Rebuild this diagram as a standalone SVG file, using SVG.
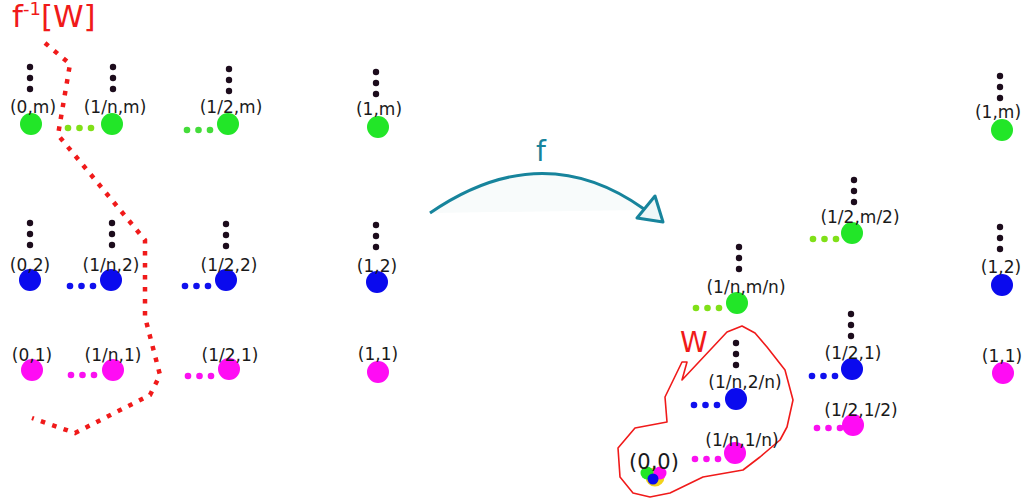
<svg xmlns="http://www.w3.org/2000/svg" xmlns:xlink="http://www.w3.org/1999/xlink" width="1028" height="501" viewBox="0 0 1028 501">
<style>
text{font-family:"DejaVu Sans",Verdana,sans-serif;}
.lbl{font-size:17px;fill:#1a1a1a;text-anchor:middle;}
.big{font-size:21px;fill:#1a1a1a;text-anchor:middle;}
.red{fill:#f01a1a;font-size:28px;}
.title{fill:#f01a1a;font-size:31px;}
.g{fill:#22e628;}
.b{fill:#0a0aee;}
.m{fill:#ff0cf4;}
.lg{color:#80e018;}
.dg{color:#44dc3a;}
.bd{color:#1010ee;}
.md{color:#fa10f0;}
</style>
<defs>
<g id="vdots" fill="#1c0c1c"><circle cx="0" cy="0" r="3.2"/><circle cx="0" cy="11" r="3.2"/><circle cx="0" cy="22" r="3.2"/></g>
<g id="hdots" fill="currentColor"><circle cx="0" cy="0" r="3.3"/><circle cx="11.5" cy="0" r="3.3"/><circle cx="23" cy="0" r="3.3"/></g>
</defs>
<rect width="1028" height="501" fill="#ffffff"/>

<g id="connectors">
<path d="M430,213 Q542,136 643,210 L430,213 Z" fill="#f8fbfb" stroke="none"/>
<path d="M430,213 Q542,136 644,209" fill="none" stroke="#17849c" stroke-width="3"/>
<polygon points="637,218 655,196 663,222" fill="#eef7f8" stroke="#17849c" stroke-width="3" stroke-linejoin="round"/>
<use xlink:href="#vdots" x="30" y="67"/>
<use xlink:href="#vdots" x="113" y="67"/>
<use xlink:href="#vdots" x="229" y="69"/>
<use xlink:href="#vdots" x="376" y="72"/>
<use xlink:href="#vdots" x="30" y="223"/>
<use xlink:href="#vdots" x="112" y="223"/>
<use xlink:href="#vdots" x="226" y="224"/>
<use xlink:href="#vdots" x="376" y="225"/>
<use xlink:href="#hdots" class="lg" x="68" y="128"/>
<use xlink:href="#hdots" class="dg" x="187" y="130"/>
<use xlink:href="#hdots" class="bd" x="70" y="286"/>
<use xlink:href="#hdots" class="bd" x="185" y="286"/>
<use xlink:href="#hdots" class="md" x="71" y="375"/>
<use xlink:href="#hdots" class="md" x="188" y="376"/>
<use xlink:href="#vdots" x="739" y="247"/>
<use xlink:href="#vdots" x="854" y="180"/>
<use xlink:href="#vdots" x="1000" y="76"/>
<use xlink:href="#vdots" x="1000" y="227"/>
<use xlink:href="#vdots" x="851" y="314"/>
<use xlink:href="#vdots" x="736" y="343"/>
<use xlink:href="#hdots" class="lg" x="696" y="308"/>
<use xlink:href="#hdots" class="lg" x="813" y="239"/>
<use xlink:href="#hdots" class="bd" x="812" y="376"/>
<use xlink:href="#hdots" class="md" x="817" y="428"/>
<use xlink:href="#hdots" class="bd" x="694" y="405"/>
<use xlink:href="#hdots" class="md" x="695" y="459"/>
</g>

<g id="preimage">
<path d="M45,43 L70,64 L58,135 L145,240 L145,317 L160,375 L150,395 L75,433 L32,418" fill="none" stroke="#f01a1a" stroke-width="4.5" stroke-dasharray="4.5 7.5"/>
<text class="title" x="12" y="27">f<tspan font-size="18" dy="-12">-1</tspan><tspan dy="12">[W]</tspan></text>
</g>

<g id="region-W">
<polygon points="742,326 755,333 767,347 785,370 793,400 787,427 780,440 760,457 743,470 703,477 670,493 650,497 633,493 620,477 618,448 635,428 667,422 665,397 682,362 687,362 682,380 727,332" fill="none" stroke="#f01a1a" stroke-width="1.6" stroke-linejoin="round"/>
<text class="red" x="680" y="352">W</text>
</g>

<text x="541" y="161" font-size="28" fill="#17849c" text-anchor="middle">f</text>

<g id="n-0-m"><circle class="g" cx="31" cy="124" r="11"/><text class="lbl" x="33" y="113">(0,m)</text></g>
<g id="n-1n-m"><circle class="g" cx="112" cy="124" r="11"/><text class="lbl" x="115" y="113">(1/n,m)</text></g>
<g id="n-12-m"><circle class="g" cx="228" cy="124" r="11"/><text class="lbl" x="231" y="113">(1/2,m)</text></g>
<g id="n-1-m"><circle class="g" cx="378" cy="127" r="11"/><text class="lbl" x="379" y="115">(1,m)</text></g>
<g id="n-0-2"><circle class="b" cx="30" cy="280" r="11"/><text class="lbl" x="30" y="271">(0,2)</text></g>
<g id="n-1n-2"><circle class="b" cx="111" cy="280" r="11"/><text class="lbl" x="111" y="271">(1/n,2)</text></g>
<g id="n-12-2"><circle class="b" cx="226" cy="280" r="11"/><text class="lbl" x="229" y="271">(1/2,2)</text></g>
<g id="n-1-2"><circle class="b" cx="377" cy="282" r="11"/><text class="lbl" x="377" y="272">(1,2)</text></g>
<g id="n-0-1"><circle class="m" cx="32" cy="370" r="11"/><text class="lbl" x="32" y="361">(0,1)</text></g>
<g id="n-1n-1"><circle class="m" cx="113" cy="370" r="11"/><text class="lbl" x="113" y="361">(1/n,1)</text></g>
<g id="n-12-1"><circle class="m" cx="229" cy="369" r="11"/><text class="lbl" x="230" y="361">(1/2,1)</text></g>
<g id="n-1-1"><circle class="m" cx="378" cy="372" r="11"/><text class="lbl" x="378" y="360">(1,1)</text></g>

<g id="f-1n-mn"><circle class="g" cx="737" cy="303" r="11"/><text class="lbl" x="746" y="293">(1/n,m/n)</text></g>
<g id="f-12-m2"><circle class="g" cx="852" cy="233" r="11"/><text class="lbl" x="860" y="223">(1/2,m/2)</text></g>
<g id="f-1-m"><circle class="g" cx="1002" cy="130" r="11"/><text class="lbl" x="998" y="118">(1,m)</text></g>
<g id="f-1-2"><circle class="b" cx="1002" cy="285" r="11"/><text class="lbl" x="1001" y="273">(1,2)</text></g>
<g id="f-1-1"><circle class="m" cx="1003" cy="373" r="11"/><text class="lbl" x="1002" y="362">(1,1)</text></g>
<g id="f-12-1"><circle class="b" cx="852" cy="369" r="11"/><text class="lbl" x="853" y="359">(1/2,1)</text></g>
<g id="f-12-12"><circle class="m" cx="853" cy="425" r="11"/><text class="lbl" x="861" y="416">(1/2,1/2)</text></g>
<g id="f-1n-2n"><circle class="b" cx="736" cy="399" r="11"/><text class="lbl" x="745" y="388">(1/n,2/n)</text></g>
<g id="f-1n-1n"><circle class="m" cx="735" cy="453" r="11"/><text class="lbl" x="742" y="446">(1/n,1/n)</text></g>
<g id="f-0-0">
<circle cx="655" cy="477" r="9.5" fill="#f2d21a"/>
<circle class="g" cx="647" cy="473" r="6.5"/>
<circle class="m" cx="660" cy="473" r="6.5"/>
<circle class="b" cx="653" cy="479" r="5.5"/>
<text class="big" x="654" y="469">(0,0)</text>
</g>
</svg>
